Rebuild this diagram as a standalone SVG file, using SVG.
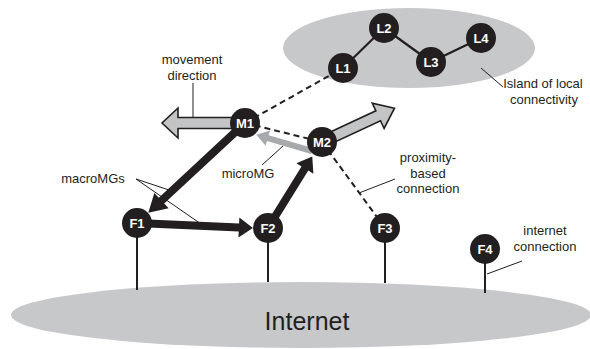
<svg xmlns="http://www.w3.org/2000/svg" width="590" height="349" viewBox="0 0 590 349">
<style>
.bg{fill:#c7c8ca}
.node circle{fill:#231f20}
.node text{font-family:"Liberation Sans",Arial,sans-serif;font-weight:bold;font-size:13px;fill:#fff;text-anchor:middle}
.lbl{font-family:"Liberation Sans",Arial,sans-serif;font-size:13px;fill:#231f20;text-anchor:middle}
.lead{stroke:#231f20;stroke-width:1;fill:none}
.dash{stroke:#231f20;stroke-width:2;stroke-dasharray:6 4;fill:none}
.solid{stroke:#231f20;stroke-width:2.2;fill:none}
.stem{stroke:#231f20;stroke-width:2;fill:none}
.mv{fill:#c3c4c6;stroke:#231f20;stroke-width:1.6;stroke-linejoin:miter}
.mac{fill:#231f20}
.mic{fill:#a7a9ac}
</style>
<g id="backgrounds">
<ellipse class="bg" cx="301" cy="315" rx="290" ry="33"/>
<ellipse class="bg" cx="409" cy="48" rx="126" ry="40"/>
<text class="lbl" x="307" y="330" style="font-size:25px">Internet</text>
</g>
<g id="connectors">
<line class="stem" x1="137" y1="223" x2="137" y2="290"/>
<line class="stem" x1="268" y1="228" x2="268" y2="282"/>
<line class="stem" x1="385" y1="228" x2="385" y2="283"/>
<line class="stem" x1="485" y1="249" x2="485" y2="293"/>
<line class="solid" x1="343" y1="68" x2="384" y2="28"/>
<line class="solid" x1="384" y1="28" x2="431" y2="62"/>
<line class="solid" x1="431" y1="62" x2="481" y2="38"/>
<line class="dash" x1="245" y1="123" x2="343" y2="68"/>
<line class="dash" x1="245" y1="123" x2="322" y2="142"/>
<line class="dash" x1="322" y1="142" x2="385" y2="228"/>
<polygon class="mv" points="235,117.5 178,117.5 178,108 162,123 178,138 178,128.5 235,128.5"/>
<polygon class="mv" transform="translate(322,142) rotate(-25)" points="10,-5.5 62,-5.5 62,-14 80,0 62,14 62,5.5 10,5.5"/>
<polygon class="mic" transform="translate(312,151) rotate(196.2)" points="0,-3 46,-3 46,-8 58,0 46,8 46,3 0,3"/>
<polygon class="mac" transform="translate(245,123) rotate(137.1)" points="0,-4 114,-4 114,-10.5 132,0 114,10.5 114,4 0,4"/>
<polygon class="mac" transform="translate(137,223) rotate(2.47)" points="0,-4 102,-4 102,-10 116,0 102,10 102,4 0,4"/>
<polygon class="mac" transform="translate(268,228) rotate(-58.2)" points="0,-4 70,-4 70,-10 84,0 70,10 70,4 0,4"/>
<line class="lead" x1="193" y1="83" x2="193" y2="117.5"/>
<line class="lead" x1="262" y1="165" x2="283" y2="146"/>
<line class="lead" x1="136" y1="179" x2="172" y2="191"/>
<line class="lead" x1="136" y1="179" x2="201" y2="224"/>
<line class="lead" x1="359" y1="193" x2="395" y2="179"/>
<line class="lead" x1="487" y1="274" x2="522" y2="261"/>
<line class="lead" x1="481" y1="68" x2="503" y2="87"/>
</g>
<g id="L1" class="node"><circle cx="343" cy="68" r="15"/><text x="343" y="73">L1</text></g>
<g id="L2" class="node"><circle cx="384" cy="28" r="15"/><text x="384" y="33">L2</text></g>
<g id="L3" class="node"><circle cx="431" cy="62" r="15"/><text x="431" y="67">L3</text></g>
<g id="L4" class="node"><circle cx="481" cy="38" r="15"/><text x="481" y="43">L4</text></g>
<g id="M1" class="node"><circle cx="245" cy="123" r="15"/><text x="245" y="128">M1</text></g>
<g id="M2" class="node"><circle cx="322" cy="142" r="15"/><text x="322" y="147">M2</text></g>
<g id="F1" class="node"><circle cx="137" cy="223" r="15"/><text x="137" y="228">F1</text></g>
<g id="F2" class="node"><circle cx="268" cy="228" r="15"/><text x="268" y="233">F2</text></g>
<g id="F3" class="node"><circle cx="385" cy="228" r="15"/><text x="385" y="233">F3</text></g>
<g id="F4" class="node"><circle cx="485" cy="249" r="15"/><text x="485" y="254">F4</text></g>
<g id="labels">
<text class="lbl" x="192" y="64">movement</text>
<text class="lbl" x="192" y="80">direction</text>
<text class="lbl" x="93" y="183">macroMGs</text>
<text class="lbl" x="248" y="178">microMG</text>
<text class="lbl" x="428" y="162">proximity-</text>
<text class="lbl" x="428" y="177.5">based</text>
<text class="lbl" x="428" y="193">connection</text>
<text class="lbl" x="545" y="235">internet</text>
<text class="lbl" x="545" y="251">connection</text>
<text class="lbl" x="543" y="88">Island of local</text>
<text class="lbl" x="544" y="104">connectivity</text>
</g>
</svg>
